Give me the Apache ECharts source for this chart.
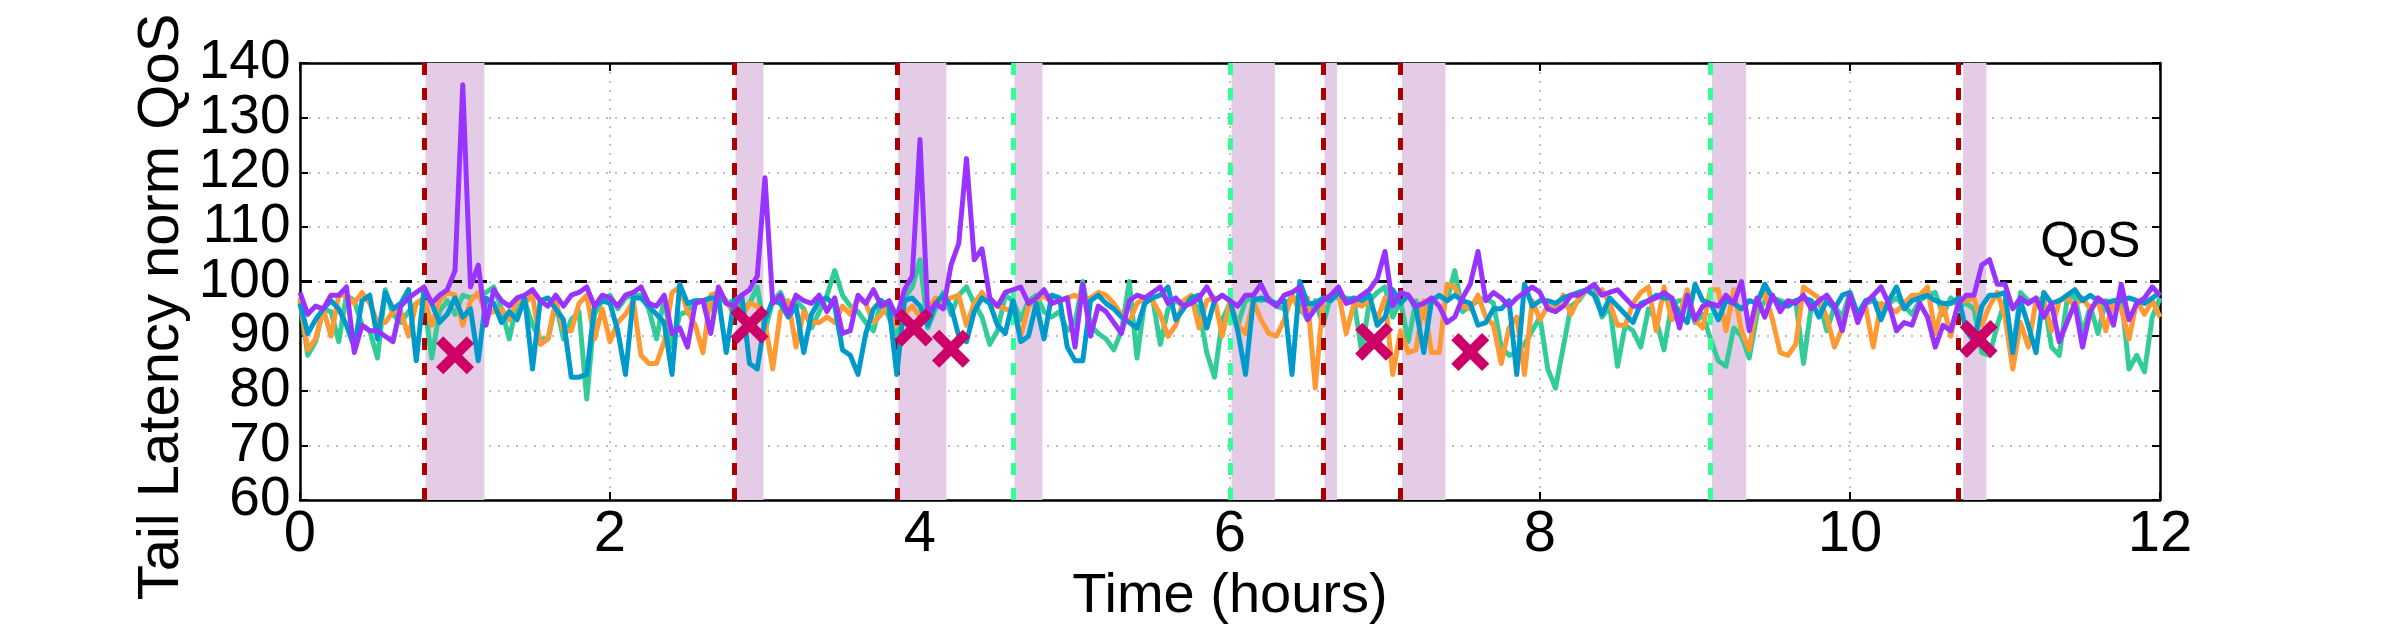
<!DOCTYPE html>
<html>
<head>
<meta charset="utf-8">
<script src="https://cdn.jsdelivr.net/npm/echarts@6/dist/echarts.min.js"></script>
<style>
  html, body { margin: 0; padding: 0; background: #fff; }
  #chart { width: 2400px; height: 630px; }
</style>
</head>
<body>
<div id="chart"></div>
<script>
// samples every 0.05 h (3 min), from 0 to 12 h
const STEP = 0.05;

const greenVals = [
  96.5, 86.5, 89, 95, 94.5, 89, 97.5, 96.5, 92, 91, 86, 98.5, 94, 92.5, 94.5, 96, 96.5, 86, 94.5, 96.5,
  94, 97.5, 97, 97.5, 98, 99, 95, 89.5, 96, 96.5, 92, 89.5, 89.5, 96, 89.5, 93, 94.5, 78.5, 94, 96.5, 97.5,
  95, 97, 97.5, 97.5, 95, 89.5, 97, 88, 94, 94.5, 96.5, 96.5, 95, 97.5, 96, 96.5, 95, 96, 99, 91,
  96.5, 98, 94.5, 96.5, 95, 91.5, 94.5, 97.5, 102, 97.5, 95.5, 94.5, 92.5, 91, 96.5, 93.5, 89.5, 97, 99, 104,
  91.5, 95, 98, 94, 97.5, 99, 96, 93.5, 88.5, 91, 97.5, 96.5, 93, 96.5, 97.5, 94.5, 93.5, 94.5, 91, 92.5,
  100, 92, 90.5, 89.5, 87.5, 91, 100, 86, 96.5, 97, 88.5, 95, 96.5, 95.5, 96.5, 95, 87, 82.5, 93, 96,
  92, 96.5, 97, 96.5, 97, 95.5, 95, 97.5, 95.5, 93, 96.5, 92, 97.5, 97, 97, 96.5, 87, 96.5, 98, 99,
  93.5, 96.5, 89, 96.5, 93.5, 96.5, 97.5, 96.5, 102, 94.5, 95.5, 96.5, 97, 96, 88, 86.5, 87, 88.5, 91, 93.5,
  84, 80.5, 88, 95.5, 96.5, 98.5, 99, 93.5, 95.5, 84.5, 92, 91, 88, 95, 93, 87.5, 96, 96.5, 96.5, 92.5,
  94, 89.5, 85.5, 84.5, 91.5, 90, 86, 94, 96.5, 97, 96.5, 96, 96.5, 85, 95.5, 96.5, 91, 95.5, 93.5, 98,
  93, 96, 96.5, 95.5, 96, 97, 95.5, 94, 96.5, 97.5, 98, 94, 97, 95.5, 96, 95, 87, 86.5, 92, 96.5,
  87, 98, 96.5, 96.5, 97, 88, 86.5, 96.5, 97.5, 90.5, 95.5, 90.5, 96.5, 96, 97.5, 84, 86.5, 83.5, 93.5, 97
];

const orangeVals = [
  97, 87.5, 89.5, 95, 90, 97.5, 97.5, 96, 98, 96, 92.5, 92.5, 94.5, 94.5, 90, 96, 97, 92, 96.5, 98,
  97.5, 92, 96.5, 98, 94, 94.5, 95, 93, 96.5, 96, 97.5, 88.5, 89.5, 96.5, 91, 91, 96, 97.5, 89.5, 95, 89,
  92.5, 94, 96.5, 86.5, 85, 85, 89, 98, 99, 94.5, 92, 87, 97.5, 98, 96.5, 94, 93.5, 96, 95.5, 92.5,
  84, 94.5, 96.5, 88, 94.5, 92.5, 92.5, 93.5, 92.5, 95.5, 94, 97, 96, 92.5, 94, 95.5, 92, 94, 95.5, 93.5,
  95, 97, 96.5, 97, 97.5, 92, 96, 98, 96, 95.5, 95, 94.5, 90, 95.5, 96.5, 97.5, 96, 96.5, 97, 97.5,
  96.5, 97, 98, 97.5, 96, 94, 92.5, 96, 97, 96.5, 94, 90, 92, 96.5, 97.5, 91.5, 96.5, 97, 90, 96.5,
  92, 90.5, 96.5, 93, 90.5, 90, 93, 97.5, 94.5, 97, 80.5, 96.5, 97.5, 98, 90.5, 96, 95.5, 96.5, 93, 97,
  83, 91, 87, 87.5, 96.5, 87, 87, 99.5, 99, 95.5, 95, 97.5, 93.5, 92, 85, 91.5, 93.5, 83, 96.5, 93,
  95.5, 95, 97.5, 94, 97, 98.5, 97.5, 98.5, 96, 92, 92, 96, 98, 99, 91, 99, 93, 94, 98.5, 93,
  91.5, 98.5, 98.5, 91, 98.5, 91, 87.5, 96.5, 98, 93, 87, 86.5, 88.5, 99, 98, 97, 93.5, 88, 91.5, 97,
  93, 95.5, 88, 96, 95, 94.5, 96, 97.5, 97.5, 99, 90.5, 96, 90, 96.5, 96.5, 97, 92, 95.5, 98, 93.5,
  84, 92.5, 88, 96.5, 96.5, 91, 96.5, 97, 95.5, 97, 95, 96.5, 91, 96.5, 95, 89.5, 96.5, 94, 96.5, 93.5
];

const blueVals = [
  96, 90.5, 93, 95, 96.5, 95, 92, 88, 96.5, 97.5, 89.5, 98, 95, 96, 98.5, 85.5, 98.5, 96, 92.5, 94,
  97, 93.5, 95, 85.5, 97, 96, 92.5, 94.5, 93, 97, 84, 96.5, 97, 95, 93, 82.5, 82.5, 83, 95.5, 96.5, 96,
  91, 83, 97, 97, 95.5, 94, 92.5, 83, 99.5, 96, 96.5, 96.5, 97, 97, 87, 96.5, 97.5, 85, 84, 93,
  96.5, 96, 93.5, 95.5, 87, 94, 96.5, 97, 95.5, 87.5, 86.5, 83, 90.5, 95, 96.5, 95.5, 83, 96.5, 97, 95.5,
  92, 96, 97.5, 95.5, 90, 89, 94.5, 97, 96, 92, 90.5, 96.5, 89, 90, 96, 89.5, 97.5, 97, 88, 85.5,
  85.5, 96.5, 97.5, 96, 95, 93.5, 92.5, 91.5, 96, 97, 97.5, 99, 93, 95, 97, 97.5, 91.5, 96.5, 97.5, 96.5,
  91, 83, 96.5, 97, 96.5, 96, 96.5, 83, 100, 96, 96, 97, 96.5, 98, 96.5, 97, 96.5, 97.5, 92, 93.5,
  98.5, 96, 97.5, 95, 87, 96.5, 97.5, 96.5, 97.5, 96.5, 96, 92, 92.5, 95, 95, 96.5, 83, 99.5, 95.5, 96.5,
  96.5, 96, 97, 97.5, 98, 98.5, 97.5, 94, 97, 95.5, 94, 92.5, 96, 96.5, 97.5, 97, 97, 94, 92.5, 99.5,
  96.5, 96, 93, 96.5, 96, 95, 96.5, 96, 99.5, 97, 96, 95.5, 96.5, 97, 96.5, 93.5, 96.5, 95, 97.5, 98,
  94, 96.5, 97, 93, 96.5, 99, 95, 96.5, 97, 97.5, 96.5, 96, 96, 97, 91, 89, 95.5, 97.5, 97.5, 98,
  87, 96.5, 92, 87, 98, 96, 96.5, 97.5, 98.5, 96.5, 97.5, 96.5, 96, 96.5, 96.5, 97, 96.5, 96, 97, 98
];

const purpleVals = [
  98, 94, 95.5, 95, 97.5, 97.5, 99, 87, 92, 91, 91, 90, 89, 95.5, 97, 98, 99, 96, 97.5, 98.5,
  102, 136, 99, 103, 92, 98.5, 96.5, 95.5, 97, 97.5, 98.5, 96.5, 95.5, 97.5, 95.5, 97.5, 98, 99, 95.5, 97.5, 97,
  95.5, 97.5, 98, 99, 96, 95.5, 97.5, 90.5, 91.5, 88, 96, 96.5, 90.5, 99, 96, 95.5, 97.5, 98.5, 101, 119,
  96, 97.5, 94, 97.5, 96.5, 96, 97.5, 94.5, 97, 90.5, 91, 97.5, 96, 98.5, 95.5, 96.5, 93.5, 98.5, 101, 126,
  94, 96, 95, 103, 107, 122.5, 104, 106, 97, 95.5, 98, 98.5, 99, 96, 97, 98.5, 96, 96.5, 97, 88,
  99.5, 90, 95.5, 94.5, 92.5, 90.5, 96.5, 97.5, 97, 98, 99, 96, 97, 95.5, 96, 97, 99, 96.5, 97.5, 96.5,
  95.5, 97.5, 97.5, 99.5, 96.5, 95.5, 97.5, 98, 99, 93, 95, 96.5, 97.5, 99, 96, 96.5, 97.5, 98.5, 100.5, 105.5,
  95.5, 98, 97.5, 95.5, 96, 97, 95.5, 92.5, 93.5, 97, 99.5, 105.5, 96.5, 98, 97, 95.5, 97, 98, 99, 98,
  95, 94.5, 95.5, 97.5, 97.5, 98.5, 99.5, 97.5, 98, 98.5, 97, 95.5, 95.5, 96.5, 97, 98, 97, 91.5, 97.5, 93,
  95.5, 96, 95.5, 97.5, 96, 100, 91, 97, 93.5, 97.5, 94.5, 96.5, 96, 97.5, 95, 96.5, 97.5, 95.5, 91, 97.5,
  92.5, 96, 97.5, 99, 96, 91, 92.5, 92, 96, 93.5, 88, 92, 91, 96, 97.5, 97.5, 103, 104, 99.5, 99.5,
  95, 97, 96, 97, 93.5, 96, 89, 92.5, 96, 88, 94.5, 97, 96, 92, 99.5, 93, 96, 97, 99, 97.5
];

// events (hours)
const redLines = [0.8, 2.8, 3.85, 6.6, 7.1, 10.7];
const greenLines = [4.6, 6.0, 9.1];
const shaded = [
  [0.81, 1.19], [2.81, 2.99], [3.86, 4.17], [4.61, 4.79], [6.01, 6.29],
  [6.61, 6.69], [7.11, 7.39], [9.11, 9.33], [10.73, 10.88]
];
// violations: [hour, value]
const crosses = [[1.0, 86.5], [2.9, 92.1], [3.96, 91.6], [4.2, 87.7], [6.93, 89], [7.55, 87.1], [10.83, 89.5]];

const QOS = 100;
const xTicks = [0, 2, 4, 6, 8, 10, 12];
const yTicks = [60, 70, 80, 90, 100, 110, 120, 130, 140];

const FONT = "'Liberation Sans', Arial, sans-serif";
const CROSS = "path://M0,19L19,0L50,31L81,0L100,19L69,50L100,81L81,100L50,69L19,100L0,81L31,50Z";

const toPairs = (vals) => vals.map((v, i) => [+(i * STEP).toFixed(2), v]);

const lineSeries = (name, vals, color, z) => ({
  name: name,
  type: "line",
  data: toPairs(vals),
  showSymbol: false,
  z: z,
  lineStyle: { color: color, width: 5, join: "round" },
});

const vLine = (x, color) => ({
  xAxis: x,
  lineStyle: { color: color, width: 5, type: [12, 13] },
});

const chart = echarts.init(document.getElementById("chart"));

const axisX = {
  type: "value",
  min: xTicks[0],
  max: xTicks[xTicks.length - 1],
  interval: 2,
  axisLine: { show: true, onZero: false, lineStyle: { color: "#000", width: 2.5 } },
  axisTick: { show: true, inside: true, length: 8, lineStyle: { color: "#000", width: 2 } },
};
const axisY = {
  type: "value",
  min: yTicks[0],
  max: yTicks[yTicks.length - 1],
  interval: 10,
  axisLine: { show: true, onZero: false, lineStyle: { color: "#000", width: 2.5 } },
  axisTick: { show: true, inside: true, length: 8, lineStyle: { color: "#000", width: 2 } },
};

const option = {
  animation: false,
  backgroundColor: "#fff",
  textStyle: { fontFamily: FONT },
  grid: { left: 300, right: 240, top: 63, bottom: 119 },
  xAxis: [
    Object.assign({}, axisX, {
      position: "bottom",
      name: "Time (hours)",
      nameLocation: "middle",
      nameGap: 52,
      nameTextStyle: { fontSize: 56, color: "#000", fontFamily: FONT },
      axisLabel: {
        fontSize: 58, color: "#000", margin: 6, fontFamily: FONT,
        showMinLabel: true, showMaxLabel: true,
      },
      splitLine: { show: true, lineStyle: { color: "#aaa", width: 1.5, type: [2, 7] } },
    }),
    Object.assign({}, axisX, {
      position: "top",
      axisLabel: { show: false },
      splitLine: { show: false },
    }),
  ],
  yAxis: [
    Object.assign({}, axisY, {
      position: "left",
      // tick labels are tightly packed; drawn by the "ytick labels" series below
      axisLabel: { show: false },
      splitLine: { show: true, lineStyle: { color: "#aaa", width: 1.5, type: [2, 7] } },
    }),
    Object.assign({}, axisY, {
      position: "right",
      axisLabel: { show: false },
      splitLine: { show: false },
    }),
  ],
  graphic: [
    {
      type: "text",
      x: 162,
      y: 307,
      rotation: Math.PI / 2,
      style: {
        text: "Tail Latency norm QoS",
        fontSize: 58,
        fontFamily: FONT,
        fill: "#000",
        align: "center",
        verticalAlign: "middle",
      },
    },
  ],
  series: [
    {
      // shaded windows + event markers
      type: "line",
      data: [],
      z: 1,
      markArea: {
        silent: true,
        itemStyle: { color: "#e5cce6", opacity: 1 },
        data: shaded.map((s) => [{ xAxis: s[0] }, { xAxis: s[1] }]),
      },
      markLine: {
        silent: true,
        symbol: "none",
        label: { show: false },
        data: redLines.map((x) => vLine(x, "#aa0000")).concat(greenLines.map((x) => vLine(x, "#33ff99"))),
      },
    },
    {
      name: "ytick labels",
      type: "scatter",
      data: yTicks.map((v) => [xTicks[0], v]),
      symbolSize: 1,
      silent: true,
      clip: false,
      itemStyle: { color: "rgba(0,0,0,0)", opacity: 1 },
      label: {
        show: true,
        position: "left",
        distance: 9,
        formatter: (p) => String(p.value[1]),
        fontSize: 55,
        color: "#000",
        opacity: 1,
        fontFamily: FONT,
      },
    },
    {
      name: "QoS",
      type: "line",
      data: [[xTicks[0], QOS], [xTicks[xTicks.length - 1], QOS]],
      showSymbol: false,
      z: 2,
      lineStyle: { color: "#000", width: 3, type: [12, 13] },
      markPoint: {
        silent: true,
        data: [
          {
            coord: [11.55, 107],
            symbol: "circle",
            symbolSize: 1,
            itemStyle: { color: "rgba(0,0,0,0)" },
            label: { show: true, position: "inside", formatter: "QoS", fontSize: 50, color: "#000", fontFamily: FONT },
          },
        ],
      },
    },
    lineSeries("green", greenVals, "#33cc99", 3),
    lineSeries("orange", orangeVals, "#ff9933", 4),
    lineSeries("blue", blueVals, "#0099cc", 5),
    lineSeries("purple", purpleVals, "#9933ff", 6),
    {
      name: "violation",
      type: "scatter",
      data: crosses,
      symbol: CROSS,
      symbolSize: 38,
      z: 10,
      itemStyle: { color: "#cc0066", opacity: 1 },
    },
  ],
};

chart.setOption(option);
</script>
</body>
</html>
